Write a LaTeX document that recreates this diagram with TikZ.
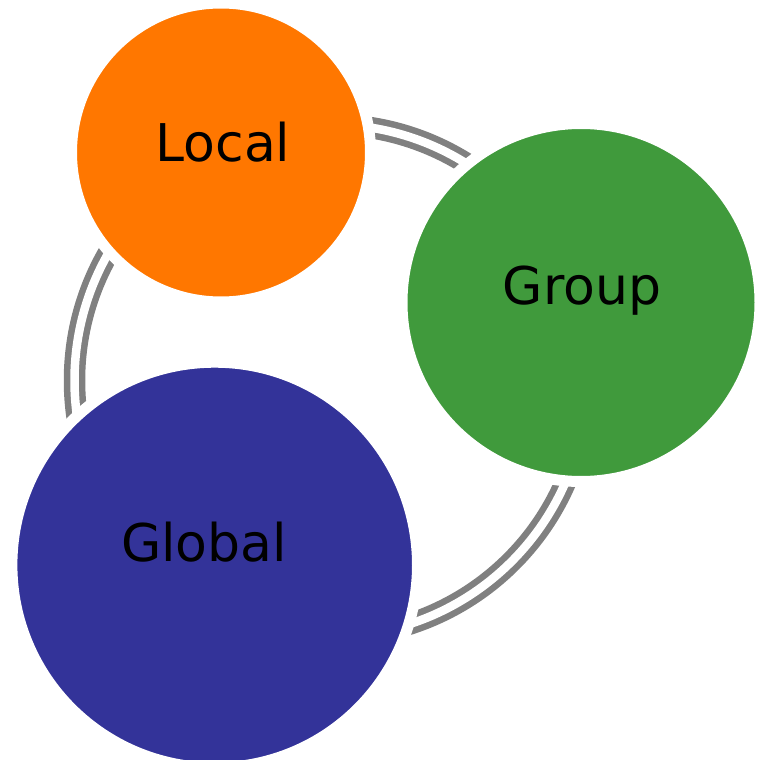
\documentclass[tikz,border=0pt]{standalone}
\usepackage{fontspec}
\setmainfont{DejaVu Sans}
\definecolor{cLocal}{RGB}{255,119,0}
\definecolor{cGroup}{RGB}{64,154,60}
\definecolor{cGlobal}{RGB}{51,51,153}
\definecolor{cRing}{RGB}{128,128,128}
\tikzset{
  ring/.style={draw=cRing, line width=6.5pt, double=white, double distance=8.5pt},
  blob/.style={circle, inner sep=0pt, draw=white, line width=11pt},
  lbl/.style={anchor=base, inner sep=0pt, font=\fontsize{52}{62}\selectfont, text=black}
}
\begin{document}
\begin{tikzpicture}[x=1pt,y=-1pt]
\useasboundingbox (0,0) rectangle (761,760);
\coordinate (ringc) at (330.5,380.5);
\draw[ring] (ringc) circle (256pt);
\node[blob, fill=cLocal, minimum size=299pt] (local) at (221,152.5) {};
\node[blob, fill=cGroup, minimum size=358pt] (group) at (581,302.5) {};
\node[blob, fill=cGlobal, minimum size=405.6pt] (global) at (214.7,565) {};
\node[lbl] (tlocal) at (223,161) {Local};
\node[lbl] (tgroup) at (582,304) {Group};
\node[lbl] (tglobal) at (204,561) {Global};
\end{tikzpicture}
\end{document}
